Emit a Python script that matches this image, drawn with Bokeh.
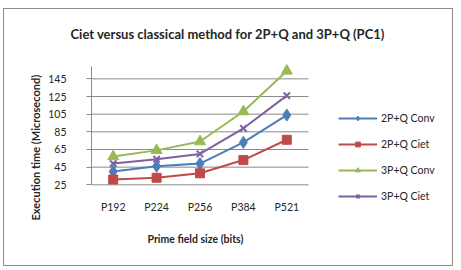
from bokeh.embed import file_html
from bokeh.models import FixedTicker, Legend, LegendItem, Range1d, Title
from bokeh.plotting import figure
from bokeh.resources import INLINE

# Prime field sizes and execution times (microseconds)
fields = ["P192", "P224", "P256", "P384", "P521"]
conv_2pq = [40, 46, 49, 73, 104]
ciet_2pq = [31, 33, 38, 53, 76]
conv_3pq = [57, 64, 74, 108, 154]
ciet_3pq = [49, 54, 60, 89, 126]
y_ticks = [25, 45, 65, 85, 105, 125, 145]
y_min, y_max = 25, 159

FONT = "Lato"
GRID = "#8a8a8a"
TEXT = "#262626"

W, H = 450, 258
# frame (drawing area) edges inside the canvas; it is larger than the
# plotted region so the legend can sit to the right of the series
FL, FT, FB = 87, 39, 194
PLOT_W = 217            # width of the plotted category band, px
PLOT_TOP, PLOT_BOT = 57, 175.3   # pixel rows of y_max and y_min

n = len(fields)
xs = list(range(n))
px_per_cat = PLOT_W / n
x_end = -0.5 + (W - FL) / px_per_cat
px_per_unit = (PLOT_BOT - PLOT_TOP) / (y_max - y_min)
y_top = y_max + (PLOT_TOP - FT) / px_per_unit
y_bot = y_min - (FB - PLOT_BOT) / px_per_unit

p = figure(
    width=W, height=H,
    x_range=Range1d(-0.5, x_end),
    y_range=Range1d(y_bot, y_top),
    output_backend="svg", toolbar_location=None,
    min_border_left=FL, min_border_right=0,
    min_border_top=FT, min_border_bottom=H - FB,
)
p.margin = (8, 0, 0, 3)
p.styles = {"border": "1px solid #8c8c8c"}
p.outline_line_color = None
p.background_fill_color = "white"
p.border_fill_color = "white"
p.xgrid.grid_line_color = None
p.ygrid.grid_line_color = None

# chart title
p.title.text = "Ciet versus classical method for 2P+Q and 3P+Q (PC1)"
p.title.align = "left"
p.title.offset = -21
p.title.standoff = 13
p.title.text_font = FONT
p.title.text_font_style = "bold"
p.title.text_font_size = "13px"
p.title.text_color = TEXT

# horizontal gridlines across the category band
p.segment(x0=[-0.5] * len(y_ticks), x1=[n - 0.5] * len(y_ticks),
          y0=y_ticks, y1=y_ticks, line_color=GRID, line_width=1)

# y axis
p.yaxis.ticker = FixedTicker(ticks=y_ticks)
p.yaxis.bounds = (y_min, y_max)
p.yaxis.axis_line_color = GRID
p.yaxis.major_tick_line_color = GRID
p.yaxis.major_tick_out = 5
p.yaxis.major_tick_in = 0
p.yaxis.minor_tick_line_color = None
p.yaxis.major_label_standoff = 20
p.yaxis.major_label_text_font = FONT
p.yaxis.major_label_text_font_size = "10.5px"
p.yaxis.major_label_text_color = TEXT

p.add_layout(Title(
    text="Execution time (Microsecond)", align="left", offset=-17,
    standoff=8, text_font=FONT, text_font_style="bold",
    text_font_size="11px", text_color=TEXT,
), "left")

# x axis: category names at integer positions
p.xaxis.ticker = FixedTicker(ticks=xs)
p.xaxis.major_label_overrides = {i: f for i, f in zip(xs, fields)}
p.xaxis.bounds = (-0.5, n - 0.5)
p.xaxis.axis_line_color = None
p.xaxis.major_tick_line_color = None
p.xaxis.minor_tick_line_color = None
p.xaxis.major_tick_out = 0
p.xaxis.major_label_standoff = -3
p.xaxis.major_label_text_font = FONT
p.xaxis.major_label_text_font_size = "10.5px"
p.xaxis.major_label_text_color = TEXT

p.add_layout(Title(
    text="Prime field size (bits)", align="left", offset=56,
    standoff=31, text_font=FONT, text_font_style="bold",
    text_font_size="10.5px", text_color=TEXT,
), "below")

series = [
    ("2P+Q Conv", conv_2pq, "#4a7ebb", "diamond", 12),
    ("2P+Q Ciet", ciet_2pq, "#be4b48", "square", 9),
    ("3P+Q Conv", conv_3pq, "#98b954", "triangle", 11),
    ("3P+Q Ciet", ciet_3pq, "#7d60a0", "x", 9),
]

items = []
for name, vals, color, marker, size in series:
    ln = p.line(xs, vals, line_color=color, line_width=2)
    if marker == "x":
        mk = p.scatter(xs, vals, marker=marker, size=size,
                       line_color=color, line_width=2)
    else:
        mk = p.scatter(xs, vals, marker=marker, size=size,
                       fill_color=color, line_color=color)
    items.append(LegendItem(label=name, renderers=[ln, mk]))

legend = Legend(
    items=items,
    location=(247, 1),
    glyph_width=39, glyph_height=12, label_height=12,
    label_standoff=4, spacing=14,
    padding=0, margin=0,
    border_line_color=None, background_fill_alpha=0,
    label_text_font=FONT, label_text_font_size="10.5px",
    label_text_color=TEXT,
)
p.add_layout(legend, "center")

open("out.html", "w").write(file_html(p, INLINE))
